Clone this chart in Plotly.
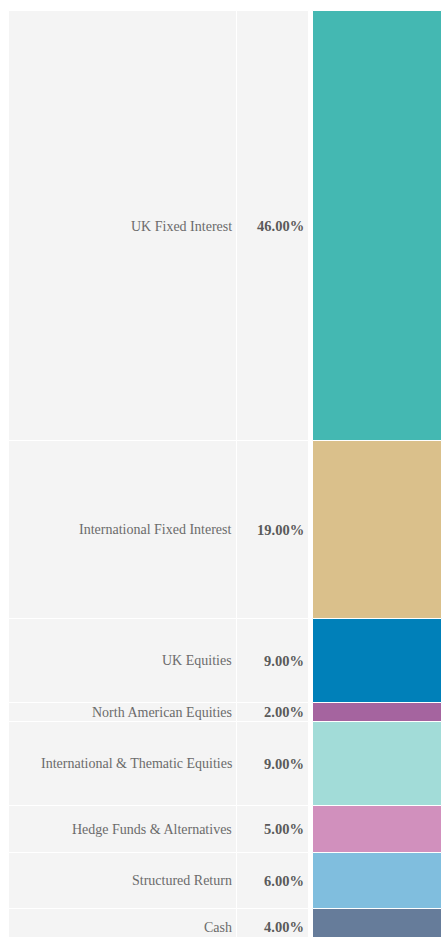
import plotly.graph_objects as go

categories = ["UK Fixed Interest", "International Fixed Interest", "UK Equities",
              "North American Equities", "International & Thematic Equities",
              "Hedge Funds & Alternatives", "Structured Return", "Cash"]
values = [46, 19, 9, 2, 9, 5, 6, 4]
pct_labels = ["46.00%", "19.00%", "9.00%", "2.00%", "9.00%", "5.00%", "6.00%", "4.00%"]
colors = ["#44B8B2", "#DAC08B", "#0080B9", "#A5649F", "#A2DCD8", "#D190BD", "#80BEDE", "#667C9A"]

bases = []
acc = 0
for v in values:
    bases.append(acc)
    acc += v
mids = [b + v / 2 for b, v in zip(bases, values)]

W, H = 442, 937
top_px = 11
px_per_unit = 9.35
y_top = -top_px / px_per_unit
y_bot = (H - top_px) / px_per_unit

fig = go.Figure()
line = dict(color="white", width=1)
# label column
fig.add_trace(go.Bar(x=[122.75] * len(values), y=values, base=bases, width=227.5,
                     marker=dict(color="#F4F4F4", line=line), hoverinfo="skip", showlegend=False))
# percentage column
fig.add_trace(go.Bar(x=[272.5] * len(values), y=values, base=bases, width=72,
                     marker=dict(color="#F4F4F4", line=line), hoverinfo="skip", showlegend=False))
# coloured column
fig.add_trace(go.Bar(x=[377.5] * len(values), y=values, base=bases, width=129,
                     marker=dict(color=colors, line=line), hoverinfo="skip", showlegend=False))

for cat, pl, m in zip(categories, pct_labels, mids):
    fig.add_annotation(x=234, y=m, text=cat, showarrow=False, xanchor="right", yanchor="middle",
                       font=dict(family="Liberation Serif", size=14, color="#6b6b6b"))
    fig.add_annotation(x=306, y=m, text="<b>" + pl + "</b>", showarrow=False, xanchor="right",
                       yanchor="middle", font=dict(family="Liberation Serif", size=14.5, color="#5a5a5a"))

fig.update_layout(
    width=W, height=H, margin=dict(l=0, r=0, t=0, b=0),
    paper_bgcolor="white", plot_bgcolor="white", barmode="overlay", bargap=0,
    xaxis=dict(range=[0, W], visible=False, fixedrange=True),
    yaxis=dict(range=[y_bot, y_top], visible=False, fixedrange=True),
)
fig.write_html("out.html", config={"displayModeBar": False})
